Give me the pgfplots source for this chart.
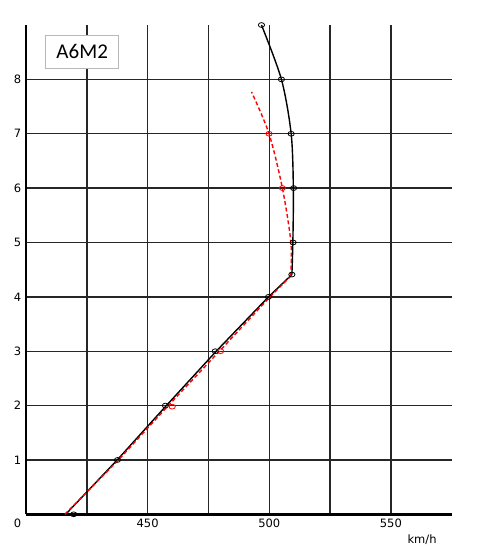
\documentclass[border=0pt]{standalone}
\usepackage{pgfplots}
\pgfplotsset{compat=1.18}
\usepackage{fontspec}
\setmainfont{DejaVu Sans}
\newfontfamily\carlito{Carlito}

\begin{document}
\begin{tikzpicture}
\path[use as bounding box] (0,0) rectangle (480pt,-559pt);
\begin{axis}[
  at={(26pt,-514.3pt)}, anchor=south west,
  scale only axis,
  width=425.7pt, height=489.3pt,
  xmin=400, xmax=575, ymin=0, ymax=9,
  axis lines*=left,
  axis line style={line width=2.6pt, black},
  xtick={425,450,...,550},
  xticklabels={,450,,500,,550},
  ytick={1,...,8},
  major tick length=0pt,
  grid=major,
  major grid style={line width=1.4pt, black!85},
  /pgf/number format/assume math mode=true,
  tick label style={font=\fontsize{11.5}{13}\selectfont},
  xticklabel style={anchor=north, inner sep=0pt, yshift=-4.5pt},
  yticklabel style={anchor=east, inner sep=0pt, xshift=-4.5pt},
  clip=false,
]
% black: straight climb then curve
\addplot[black, line width=1.4pt] coordinates {
  (416.3,0) (437.5,1) (457.7,2) (478.2,3) (499.7,4) (509.3,4.41)};
\addplot[black, line width=1.4pt, smooth] coordinates {
  (509.3,4.41) (509.7,5) (509.9,6) (509.0,7) (505.0,8) (496.8,9)};
% red dashed
\addplot[red, line width=1.4pt, dash pattern=on 4pt off 2.5pt] coordinates {
  (416.0,0) (438.0,1) (458.5,2) (479.5,3) (500.3,4) (508.8,4.38)};
\addplot[red, line width=1.4pt, dash pattern=on 4pt off 2.5pt, smooth] coordinates {
  (508.8,4.38) (508.9,5) (505.4,6) (499.9,7) (492.7,7.77)};
% markers
\addplot[only marks, mark=o, mark size=2.4pt,
  mark options={xscale=1.3, fill=white, draw=black, line width=0.8pt}] coordinates {
  (419.6,0) (437.6,1) (457.3,2) (477.8,3) (499.7,4) (509.3,4.41)
  (509.8,5) (510.0,6) (509.0,7) (505.0,8) (496.8,9)};
\addplot[only marks, mark=o, mark size=2.4pt,
  mark options={xscale=1.3, fill=white, draw=red, line width=0.8pt}] coordinates {
  (460.1,1.98) (480.0,3) (505.4,6) (499.9,7)};
\node[anchor=north east, inner sep=0pt, font=\fontsize{11.5}{13}\selectfont,
  xshift=-4.5pt, yshift=-4.5pt] at (axis cs:400,0) {0};
\node[font=\fontsize{11.5}{13}\selectfont] at (axis cs:562.8,-0.47) {km/h};
\node[draw=black!28, line width=1pt, fill=white, minimum width=73.3pt,
  minimum height=33.6pt, inner sep=0pt, font=\carlito\fontsize{21}{24}\selectfont]
  at (axis cs:423.1,8.506) {A6M2};
\end{axis}
\end{tikzpicture}
\end{document}
